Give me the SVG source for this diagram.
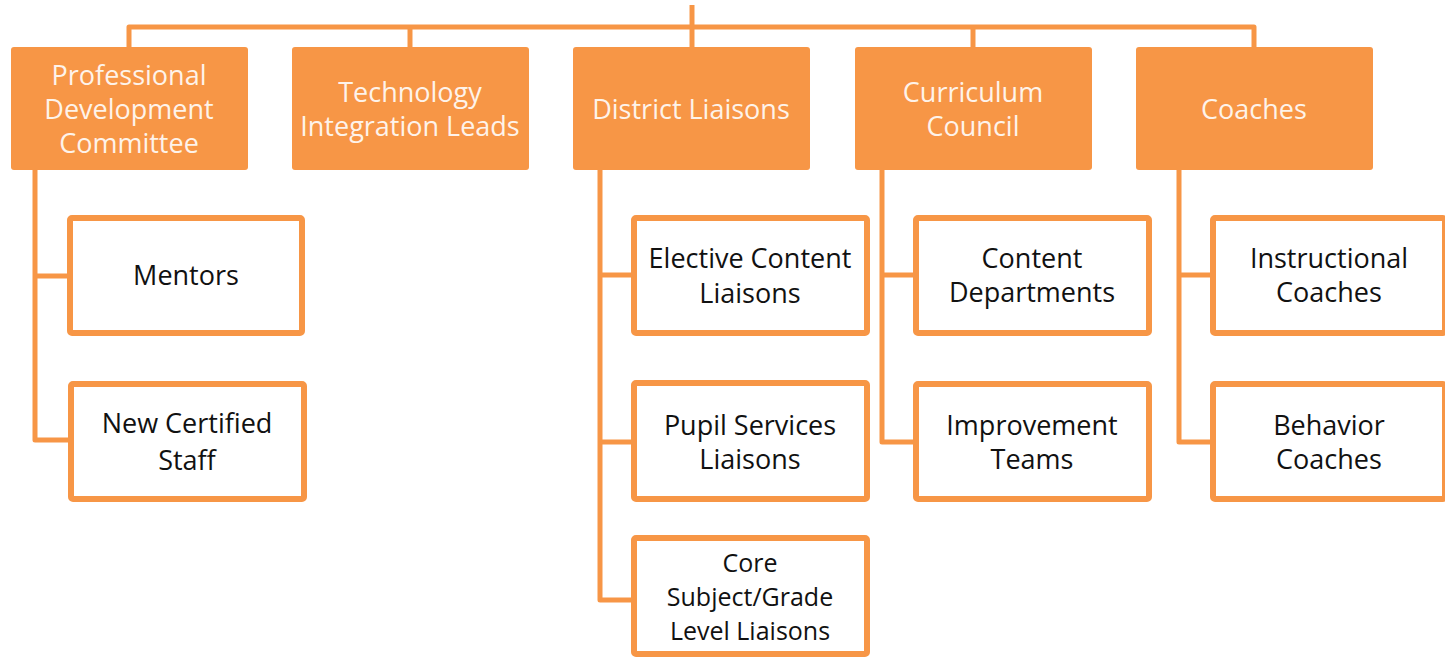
<svg xmlns="http://www.w3.org/2000/svg" width="1445" height="657" viewBox="0 0 1445 657">
<style>
.top rect{fill:#F79646;}
.top text{fill:#FEF3EA;font-family:"Open Sans","Liberation Sans",sans-serif;font-size:27px;text-anchor:middle;}
.child rect{fill:#FFFFFF;stroke:#F79646;stroke-width:6;}
.child text{fill:#111111;font-family:"Open Sans","Liberation Sans",sans-serif;font-size:27px;text-anchor:middle;}
#n-core text{font-size:25px;}
.conn{fill:none;stroke:#F79646;stroke-width:5;stroke-linejoin:round;}
</style>
<rect width="1445" height="657" fill="#FFFFFF"/>
<g id="connectors" class="conn">
<path d="M692 5 V27"/>
<path d="M129 48 V27 H1254 V48"/>
<path d="M410 27 V48"/>
<path d="M692 27 V48"/>
<path d="M973 27 V48"/>
<path d="M35 170 V440 H70"/>
<path d="M35 276 H70"/>
<path d="M600 170 V600 H634"/>
<path d="M600 275 H634"/>
<path d="M600 442 H634"/>
<path d="M882 170 V442 H916"/>
<path d="M882 275 H916"/>
<path d="M1179 170 V442 H1213"/>
<path d="M1179 275 H1213"/>
</g>
<g id="n-pd" class="top"><rect x="11" y="47" width="237" height="123" rx="3"/><text x="129" y="85">Professional</text><text x="129" y="119">Development</text><text x="129" y="153">Committee</text></g>
<g id="n-tech" class="top"><rect x="292" y="47" width="237" height="123" rx="3"/><text x="410" y="102">Technology</text><text x="410" y="136">Integration Leads</text></g>
<g id="n-dl" class="top"><rect x="573" y="47" width="237" height="123" rx="3"/><text x="691" y="119">District Liaisons</text></g>
<g id="n-cc" class="top"><rect x="855" y="47" width="237" height="123" rx="3"/><text x="973" y="102">Curriculum</text><text x="973" y="136">Council</text></g>
<g id="n-co" class="top"><rect x="1136" y="47" width="237" height="123" rx="3"/><text x="1254" y="119">Coaches</text></g>
<g id="n-mentors" class="child"><rect x="70" y="218" width="232" height="115" rx="2"/><text x="186" y="285">Mentors</text></g>
<g id="n-ncs" class="child"><rect x="71" y="384" width="233" height="115" rx="2"/><text x="187" y="433">New Certified</text><text x="187" y="470">Staff</text></g>
<g id="n-ecl" class="child"><rect x="634" y="218" width="233" height="115" rx="2"/><text x="750" y="268">Elective Content</text><text x="750" y="303">Liaisons</text></g>
<g id="n-psl" class="child"><rect x="634" y="383" width="233" height="116" rx="2"/><text x="750" y="435">Pupil Services</text><text x="750" y="469">Liaisons</text></g>
<g id="n-core" class="child"><rect x="634" y="538" width="233" height="116" rx="2"/><text x="750" y="572">Core</text><text x="750" y="606">Subject/Grade</text><text x="750" y="640">Level Liaisons</text></g>
<g id="n-cd" class="child"><rect x="916" y="218" width="233" height="115" rx="2"/><text x="1032" y="268">Content</text><text x="1032" y="302">Departments</text></g>
<g id="n-it" class="child"><rect x="916" y="384" width="233" height="115" rx="2"/><text x="1032" y="435">Improvement</text><text x="1032" y="469">Teams</text></g>
<g id="n-ic" class="child"><rect x="1213" y="218" width="232" height="115" rx="2"/><text x="1329" y="268">Instructional</text><text x="1329" y="302">Coaches</text></g>
<g id="n-bc" class="child"><rect x="1213" y="384" width="232" height="115" rx="2"/><text x="1329" y="435">Behavior</text><text x="1329" y="469">Coaches</text></g>
</svg>
